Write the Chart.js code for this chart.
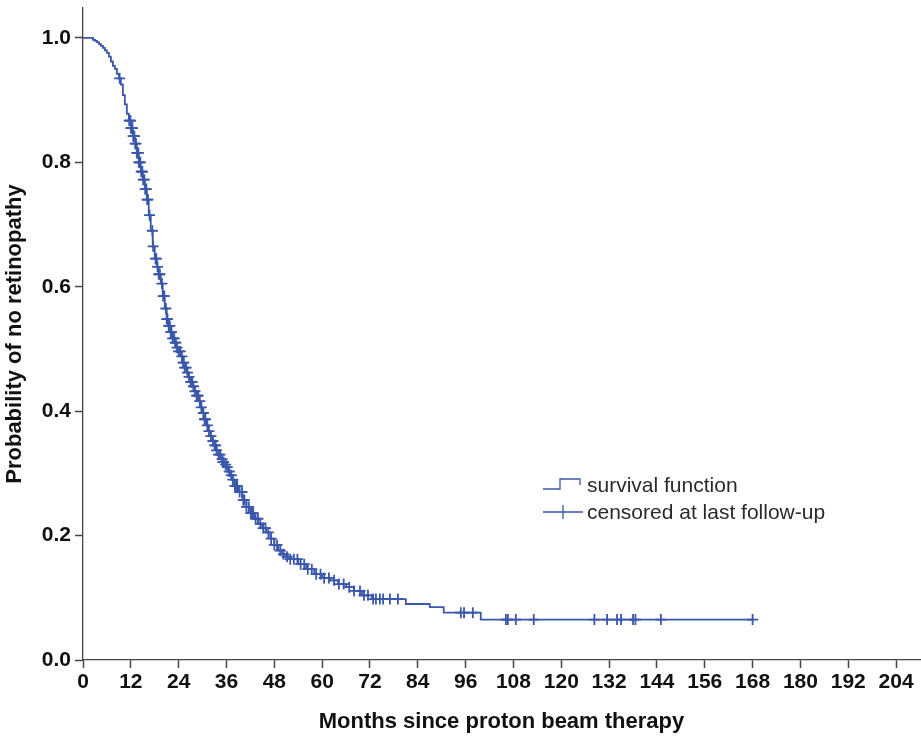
<!DOCTYPE html>
<html>
<head>
<meta charset="utf-8">
<script src="https://cdn.jsdelivr.net/npm/chart.js@4.4.1/dist/chart.umd.min.js"></script>
<style>
  html, body { margin: 0; padding: 0; background: #fff; }
</style>
</head>
<body>
<canvas id="km" width="921" height="740"></canvas>
<script>
// Kaplan-Meier estimate: months after treatment / probability of no retinopathy
var months = [0, 2, 2.5, 3, 3.5, 4, 4.5, 5, 5.5, 6, 6.5, 7, 7.5, 8, 8.5, 9, 9.5, 10, 10.5, 11, 11.5, 12, 12.5, 13,
  13.5, 14, 14.5, 15, 15.5, 16, 16.5, 17, 17.5, 18, 18.5, 19, 19.5, 20, 20.5, 21, 21.5, 22, 22.5, 23,
  23.5, 24, 24.5, 25, 25.5, 26, 26.5, 27, 27.5, 28, 28.5, 29, 29.5, 30, 30.5, 31, 31.5, 32, 32.5, 33,
  33.5, 34, 34.5, 35, 35.5, 36, 36.5, 37, 37.5, 38, 39, 40, 41, 42, 43, 44, 45, 46, 47, 48,
  49, 50, 51, 52, 54, 56, 58, 60, 62, 64, 66, 68, 70, 72.5, 81, 87, 90.5, 99.8, 168.4];
var survival = [1, 1, 0.997, 0.995, 0.993, 0.99, 0.987, 0.984, 0.98, 0.976, 0.97, 0.962, 0.955, 0.95, 0.942, 0.935, 0.925, 0.908, 0.893, 0.878, 0.867, 0.855, 0.842, 0.83,
  0.815, 0.8, 0.785, 0.772, 0.757, 0.74, 0.715, 0.69, 0.665, 0.645, 0.632, 0.62, 0.605, 0.585, 0.565, 0.548, 0.537, 0.527, 0.517, 0.51,
  0.502, 0.496, 0.488, 0.478, 0.47, 0.462, 0.455, 0.447, 0.44, 0.432, 0.425, 0.416, 0.406, 0.397, 0.387, 0.377, 0.368, 0.36, 0.352, 0.345,
  0.337, 0.33, 0.323, 0.318, 0.314, 0.31, 0.303, 0.297, 0.29, 0.28, 0.27, 0.257, 0.246, 0.236, 0.227, 0.219, 0.212, 0.205, 0.195, 0.185,
  0.176, 0.17, 0.166, 0.162, 0.154, 0.146, 0.138, 0.132, 0.128, 0.122, 0.117, 0.111, 0.104, 0.098, 0.09, 0.085, 0.076, 0.065, 0.065];

// times of the censoring ticks
var censorMonths = [9.2, 11.6, 11.8, 11.9, 12.0, 12.2, 12.3, 12.4, 12.6, 12.8, 12.9, 13.1, 13.3, 13.5, 13.7, 13.9, 14.0,
  14.2, 14.4, 14.6, 14.8, 14.9, 15.1, 15.4, 15.6, 15.9, 16.1, 16.3, 16.7, 17.4, 17.6, 18.2, 18.4, 18.7, 19.0, 19.3,
  19.8, 20.1, 20.4, 20.8, 21.0, 21.2, 21.5, 21.8, 22.0, 22.2, 22.5, 22.9, 23.1, 23.3, 23.6, 24.0, 24.4, 24.8, 25.1,
  25.3, 25.5, 25.9, 26.2, 26.6, 27.0, 27.2, 27.4, 27.7, 28.1, 28.5, 28.7, 28.9, 29.3, 29.7, 30.2, 30.5, 30.7, 31.2,
  31.6, 32.1, 32.6, 33.0, 33.3, 33.5, 34.0, 34.4, 34.9, 35.1, 35.3, 35.8, 36.2, 36.7, 37.2, 37.6, 38.1, 38.4, 38.7,
  39.3, 39.9, 40.2, 40.5, 41.0, 41.6, 42.1, 42.4, 42.7, 43.3, 43.9, 44.5, 45.2, 45.8, 46.5, 47.2, 48.0, 48.7,
  49.5, 50.3, 51.2, 52.0, 52.9, 53.8, 54.6, 55.5, 56.4, 57.4, 58.5, 59.6, 60.5, 61.7, 63.0, 64.2, 65.4, 66.8, 68.0,
  69.5, 70.5, 71.5, 72.8, 73.5, 74.5, 75.3, 77.0, 79.0, 94.8, 95.6, 97.8, 106.1, 106.6, 108.6, 113.1, 128.3, 131.5,
  134, 135, 138, 138.6, 145, 168];

var legendLabels = ['survival function', 'censored at last follow-up'];
var lineColor = '#3a57ab';

function survAt(t) {
  var s = survival[0];
  for (var i = 0; i < months.length; i++) {
    if (months[i] <= t) s = survival[i];
  }
  return s;
}

var curvePts = months.map(function (m, i) { return { x: m, y: survival[i] }; });
var censorPts = censorMonths.map(function (m) { return { x: m, y: survAt(m) }; });

var kmLegend = {
  id: 'kmLegend',
  afterDraw: function (chart) {
    var ctx = chart.ctx;
    ctx.save();
    ctx.strokeStyle = lineColor;
    ctx.lineWidth = 1.3;
    ctx.beginPath();
    ctx.moveTo(543, 489); ctx.lineTo(560, 489); ctx.lineTo(560, 479);
    ctx.lineTo(580, 479); ctx.lineTo(580, 485);
    ctx.stroke();
    ctx.beginPath();
    ctx.moveTo(543, 512); ctx.lineTo(583, 512);
    ctx.moveTo(563, 505); ctx.lineTo(563, 519);
    ctx.stroke();
    ctx.fillStyle = '#2a2a2a';
    ctx.font = '21px "Liberation Sans", Arial, sans-serif';
    ctx.textBaseline = 'middle';
    ctx.fillText(legendLabels[0], 587, 486);
    ctx.fillText(legendLabels[1], 587, 513);
    ctx.restore();
  }
};

var tickFont = { family: '"Liberation Sans", Arial, sans-serif', size: 21, weight: 'bold' };
var titleFont = { family: '"Liberation Sans", Arial, sans-serif', size: 22, weight: 'bold' };

new Chart(document.getElementById('km'), {
  type: 'line',
  data: {
    datasets: [
      {
        label: legendLabels[0],
        data: curvePts,
        stepped: 'before',
        borderColor: lineColor,
        borderWidth: 1.8,
        pointRadius: 0,
        fill: false
      },
      {
        label: legendLabels[1],
        data: censorPts,
        showLine: false,
        pointStyle: 'cross',
        pointRadius: 5.5,
        pointBorderWidth: 1.8,
        borderColor: lineColor,
        backgroundColor: lineColor
      }
    ]
  },
  options: {
    responsive: false,
    animation: false,
    layout: { autoPadding: false, padding: { top: 8, right: 1, left: 0, bottom: 0 } },
    plugins: { legend: { display: false }, tooltip: { enabled: false } },
    scales: {
      x: {
        type: 'linear',
        min: 0,
        max: 210,
        afterFit: function (s) { s.height = 80; s.paddingLeft = 0; s.paddingRight = 0; },
        ticks: { stepSize: 12, includeBounds: false, color: '#111', font: tickFont, padding: 2, maxRotation: 0 },
        grid: { drawOnChartArea: false, drawTicks: true, tickLength: 8, tickWidth: 1.5, color: '#444' },
        border: { display: true, color: '#444', width: 1.3 },
        title: { display: true, text: 'Months since proton beam therapy', color: '#111', font: titleFont, padding: { top: 0, bottom: 5 } }
      },
      y: {
        min: 0,
        max: 1.048,
        afterFit: function (s) { s.width = 83; s.paddingTop = 0; s.paddingBottom = 0; },
        ticks: {
          stepSize: 0.2, includeBounds: false, color: '#111', font: tickFont, padding: 4,
          callback: function (v) { return v.toFixed(1); }
        },
        grid: { drawOnChartArea: false, drawTicks: true, tickLength: 8, tickWidth: 1.5, color: '#444' },
        border: { display: true, color: '#444', width: 1.3 },
        title: { display: true, text: 'Probability of no retinopathy', color: '#111', font: titleFont, padding: { top: 2, bottom: 0 } }
      }
    }
  },
  plugins: [kmLegend]
});
</script>
</body>
</html>
